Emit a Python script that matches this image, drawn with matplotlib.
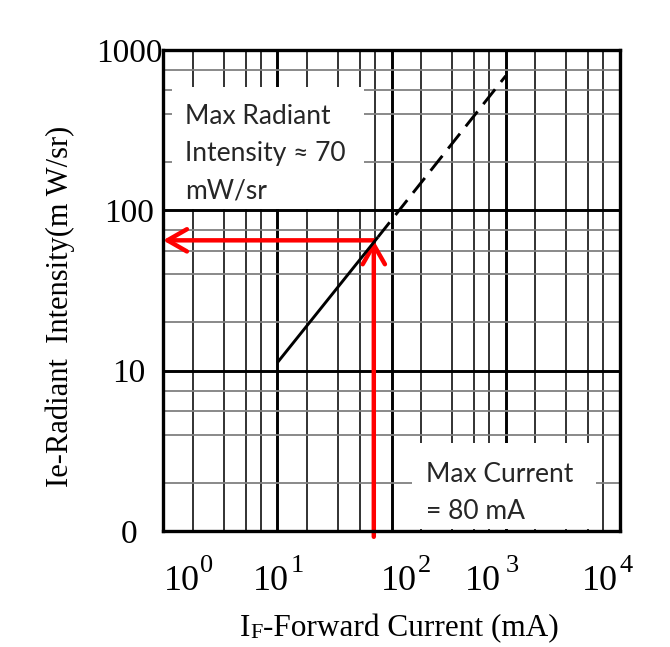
import matplotlib
matplotlib.use('Agg')
import matplotlib.pyplot as plt
import matplotlib.transforms as mtransforms
from matplotlib.patches import Rectangle
from matplotlib.ticker import NullFormatter

# values
x_decades = [1, 10, 100, 1000, 10000]
x_exponents = ['0', '1', '2', '3', '4']
y_ticks = [1, 10, 100, 1000]
y_ticklabels = ['0', '10', '100', '1000']
x_minor_steps = [1.82, 3.39, 5.3, 7.16]
y_minor_steps = [2.0, 3.98, 5.6, 7.5]

curve_if = [10, 76]        # solid part (mA)
curve_ie = [11.2, 68]      # mW/sr
ext_if = [76, 1000]        # dashed extrapolation
ext_ie = [68, 690]

max_if = 70
max_ie = 65

serif = ['Liberation Serif', 'DejaVu Serif']
sans = ['Lato', 'DejaVu Sans']
red = '#ff0000'

fig = plt.figure(figsize=(6.7, 6.47), dpi=100)
ax = fig.add_axes([163/670, 116/647, 457/670, 481/647])
ax.set_xscale('log')
ax.set_yscale('log')
ax.set_xlim(1, 1e4)
ax.set_ylim(1, 1000)

x_minor = [m * 10**d for d in range(4) for m in x_minor_steps]
y_minor = [m * 10**d for d in range(3) for m in y_minor_steps]
ax.set_xticks(x_decades)
ax.set_xticks(x_minor, minor=True)
ax.set_yticks(y_ticks, labels=y_ticklabels)
ax.set_yticks(y_minor, minor=True)
ax.yaxis.set_minor_formatter(NullFormatter())
ax.tick_params(axis='x', which='both', length=0, labelbottom=False)
ax.tick_params(axis='y', which='both', length=0, pad=24.5, labelsize=24)
for lbl in ax.get_yticklabels():
    lbl.set_fontfamily(serif)
    lbl.set_ha('center')

ax.set_axisbelow(True)
ax.xaxis.grid(True, which='major', color='black', lw=2.1)
ax.yaxis.grid(True, which='major', color='black', lw=2.1)
ax.xaxis.grid(True, which='minor', color='#222222', lw=1.3)
ax.yaxis.grid(True, which='minor', color='#808080', lw=1.3)
for sp in ax.spines.values():
    sp.set_linewidth(2.4)
    sp.set_zorder(5)

# white label boxes that hide the grid
ax.add_patch(Rectangle((0.02, 0.67), 0.42, 0.253, transform=ax.transAxes,
                       facecolor='white', edgecolor='none', zorder=1))
ax.add_patch(Rectangle((0.545, 0.004), 0.402, 0.179, transform=ax.transAxes,
                       facecolor='white', edgecolor='none', zorder=1))

ax.plot(curve_if, curve_ie, color='black', lw=2.1, zorder=4, solid_capstyle='butt')
ax.plot(ext_if, ext_ie, color='black', lw=2.1, zorder=4, dashes=(6.5, 3.2))

arrow = dict(arrowstyle='->, head_length=0.7, head_width=0.4', color=red, lw=3.2,
             mutation_scale=20, shrinkA=0, shrinkB=0)
ax.annotate('', xy=(1, max_ie), xytext=(max_if, max_ie), arrowprops=arrow,
            zorder=3, annotation_clip=False)
ax.annotate('', xy=(max_if, max_ie), xytext=(max_if, 0.92), arrowprops=arrow,
            zorder=3, annotation_clip=False)

ax.text(0.048, 0.888, 'Max Radiant\nIntensity \u2248 70\nmW/sr', transform=ax.transAxes,
        va='top', ha='left', fontsize=19, family=sans, linespacing=1.62, color='#262626', zorder=6)
ax.text(0.575, 0.144, 'Max Current\n= 80 mA', transform=ax.transAxes,
        va='top', ha='left', fontsize=19, family=sans, linespacing=1.6, color='#262626', zorder=6)

# decade labels, drawn as base and exponent like the original
blend = mtransforms.blended_transform_factory(ax.transData, ax.transAxes)
main_dx = [18.5, -6.5, 7, -23, -20.5]
sup_dx = [37, 13, 26, 0, 0]
for xv, ex, mdx, sdx in zip(x_decades, x_exponents, main_dx, sup_dx):
    tr = blend + mtransforms.ScaledTranslation(mdx/100, -59/100, fig.dpi_scale_trans)
    ax.text(xv, 0, '10', transform=tr, ha='center', va='baseline', fontsize=26, family=serif)
    tr = blend + mtransforms.ScaledTranslation(sdx/100, -41/100, fig.dpi_scale_trans)
    ax.text(xv, 0, ex, transform=tr, ha='left', va='baseline', fontsize=19, family=serif)

fig.text(60/670, (647-306)/647, 'Ie-Radiant  Intensity(m W/sr)', rotation=90,
         ha='center', va='center', fontsize=22, family=serif)

t1 = fig.text(240/670, 4/647, 'I', ha='left', va='bottom', fontsize=22.5, family=serif)
t2 = ax.annotate('F', xy=(1, 0), xycoords=t1, ha='left', va='bottom', fontsize=16, family=serif)
ax.annotate('-Forward Current (mA)', xy=(1, 0), xycoords=t2, ha='left', va='bottom',
            fontsize=22.5, family=serif)

fig.savefig('out.png', dpi=100)
